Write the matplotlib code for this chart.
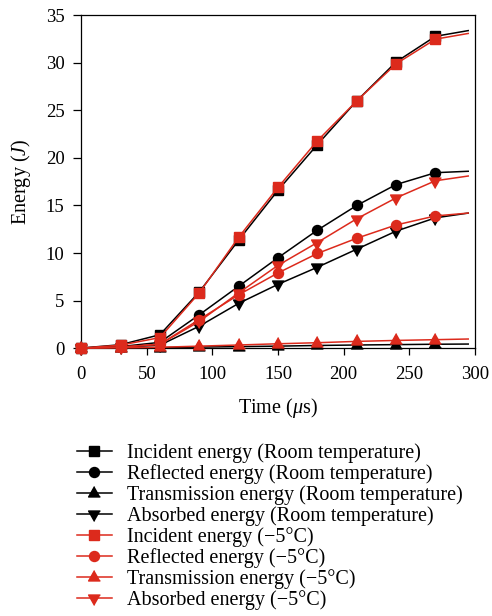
import matplotlib
matplotlib.use("Agg")
import matplotlib.pyplot as plt

plt.rcParams['font.family'] = ['Liberation Serif', 'DejaVu Serif']
plt.rcParams['mathtext.fontset'] = 'custom'
plt.rcParams['mathtext.rm'] = 'Liberation Serif'
plt.rcParams['mathtext.it'] = 'Liberation Serif:italic'

# time in microseconds; last point only carries the line (no marker)
t = [0, 30, 60, 90, 120, 150, 180, 210, 240, 270, 295]

incident_rt = [0, 0.35, 1.4, 5.9, 11.35, 16.6, 21.4, 26.0, 30.1, 32.8, 33.4]
reflected_rt = [0, 0.15, 0.6, 3.5, 6.5, 9.5, 12.4, 15.0, 17.2, 18.45, 18.6]
transmission_rt = [0, 0.02, 0.05, 0.1, 0.15, 0.2, 0.27, 0.32, 0.36, 0.4, 0.42]
absorbed_rt = [0, 0.1, 0.3, 2.3, 4.7, 6.7, 8.5, 10.4, 12.3, 13.7, 14.2]

incident_cold = [0, 0.3, 1.1, 5.8, 11.65, 16.9, 21.8, 26.0, 29.9, 32.5, 33.1]
reflected_cold = [0, 0.1, 0.4, 3.0, 5.6, 7.9, 9.95, 11.55, 12.95, 13.9, 14.2]
transmission_cold = [0, 0.02, 0.08, 0.2, 0.32, 0.45, 0.56, 0.7, 0.8, 0.88, 0.95]
absorbed_cold = [0, 0.1, 0.4, 2.8, 5.8, 8.7, 11.1, 13.6, 15.8, 17.6, 18.1]

labels_rt = ['Incident energy (Room temperature)',
             'Reflected energy (Room temperature)',
             'Transmission energy (Room temperature)',
             'Absorbed energy (Room temperature)']
labels_cold = ['Incident energy (\u22125\u00b0C)',
               'Reflected energy (\u22125\u00b0C)',
               'Transmission energy (\u22125\u00b0C)',
               'Absorbed energy (\u22125\u00b0C)']

red = '#dc2a1c'

# triangles centred on their centroid
tri_up = [(0, 1), (-0.85, -0.5), (0.85, -0.5)]
tri_down = [(0, -1), (-0.85, 0.5), (0.85, 0.5)]
markers = ['s', 'o', tri_up, tri_down]
sizes = [7.8, 7.2, 10, 10]

fig = plt.figure(figsize=(4.92, 6.16), dpi=100)
ax = fig.add_axes([0.165, 0.435, 0.8, 0.54])

series_rt = [incident_rt, reflected_rt, transmission_rt, absorbed_rt]
series_cold = [incident_cold, reflected_cold, transmission_cold, absorbed_cold]
mark_idx = list(range(10))

for y, m, ms, lab in zip(series_rt, markers, sizes, labels_rt):
    ax.plot(t, y, color='black', lw=1.1, marker=m, ms=ms, markevery=mark_idx,
            label=lab, clip_on=False, zorder=3)
for y, m, ms, lab in zip(series_cold, markers, sizes, labels_cold):
    ax.plot(t, y, color=red, lw=1.1, marker=m, ms=ms, markevery=mark_idx,
            label=lab, clip_on=False, zorder=4)

ax.set_xlim(0, 300)
ax.set_ylim(0, 35)
ax.set_xticks([0, 50, 100, 150, 200, 250, 300])
ax.set_yticks([0, 5, 10, 15, 20, 25, 30, 35])
ax.tick_params(axis='both', labelsize=13.5, width=0.9, direction='out')
ax.tick_params(axis='y', length=6, pad=6)
ax.tick_params(axis='x', length=5, pad=8)
for s in ax.spines.values():
    s.set_linewidth(0.9)

ax.set_xlabel('Time ($\\mu$s)', fontsize=14.5, labelpad=9)
ax.set_ylabel('Energy ($J$)', fontsize=14.5, labelpad=9)

fig.legend(loc='upper left', bbox_to_anchor=(0.156, 0.281), frameon=False,
           fontsize=14.5, handlelength=1.75, handletextpad=0.75,
           labelspacing=0.06, borderpad=0, borderaxespad=0)

fig.savefig('out.png', dpi=100)
